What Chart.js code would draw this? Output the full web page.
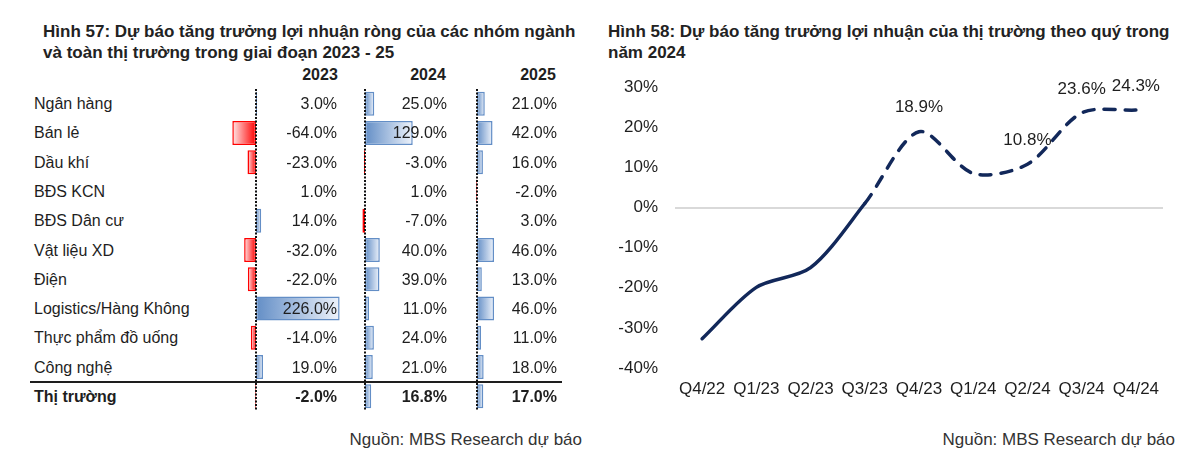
<!DOCTYPE html>
<html lang="vi">
<head>
<meta charset="utf-8">
<script src="https://cdn.jsdelivr.net/npm/chart.js@4.4.1/dist/chart.umd.min.js"></script>
<style>
  html, body { margin: 0; padding: 0; background: #fff; }
  body {
    width: 1200px; height: 458px; position: relative; overflow: hidden;
    font-family: "Liberation Sans", Arial, sans-serif; color: #1e1e1e;
  }
  .t { position: absolute; white-space: nowrap; line-height: 20px; height: 20px; }
  .title { font-weight: bold; font-size: 17px; color: #222; }
  .cell { font-size: 16px; }
  .bold { font-weight: bold; }
  .src { font-size: 17px; color: #333; }
  canvas { position: absolute; }
</style>
</head>
<body>

<div class="t title" style="left:43px; top:22px;">Hình 57: Dự báo tăng trưởng lợi nhuận ròng của các nhóm ngành</div>
<div class="t title" style="left:43px; top:43px;">và toàn thị trường trong giai đoạn 2023 - 25</div>
<div class="t title" style="left:608px; top:22px;">Hình 58: Dự báo tăng trưởng lợi nhuận của thị trường theo quý trong</div>
<div class="t title" style="left:608px; top:43px;">năm 2024</div>

<div id="table"></div>
<div style="position:absolute; left:30px; top:381px; width:532px; height:2px; background:#1e1e1e;"></div>

<canvas id="bar2023"></canvas>
<canvas id="bar2024"></canvas>
<canvas id="bar2025"></canvas>
<canvas id="lineChart" style="left:600px; top:60px;" width="580" height="360"></canvas>

<div class="t src" style="right:618px; top:430px;">Nguồn: MBS Research dự báo</div>
<div class="t src" style="right:25px; top:430px;">Nguồn: MBS Research dự báo</div>

<script>
// Hình 57 - tăng trưởng LNR theo nhóm ngành (%)
const sectors = ['Ngân hàng', 'Bán lẻ', 'Dầu khí', 'BĐS KCN', 'BĐS Dân cư', 'Vật liệu XD',
  'Điện', 'Logistics/Hàng Không', 'Thực phẩm đồ uống', 'Công nghệ', 'Thị trường'];
const years = ['2023', '2024', '2025'];
const growth2023 = [3.0, -64.0, -23.0, 1.0, 14.0, -32.0, -22.0, 226.0, -14.0, 19.0, -2.0];
const growth2024 = [25.0, 129.0, -3.0, 1.0, -7.0, 40.0, 39.0, 11.0, 24.0, 21.0, 16.8];
const growth2025 = [21.0, 42.0, 16.0, -2.0, 3.0, 46.0, 13.0, 46.0, 11.0, 18.0, 17.0];

// Hình 58 - tăng trưởng LN thị trường theo quý (%)
const quarters = ['Q4/22', 'Q1/23', 'Q2/23', 'Q3/23', 'Q4/23', 'Q1/24', 'Q2/24', 'Q3/24', 'Q4/24'];
const marketGrowth = [-32.7, -19.9, -15.0, 1.0, 18.9, 8.5, 10.8, 23.6, 24.3];
const labelledQuarters = ['Q4/23', 'Q2/24', 'Q3/24', 'Q4/24'];
const forecastFrom = 'Q3/23';

const FONT = '"Liberation Sans", Arial, sans-serif';
const BLUE = '#638ec6';
const RED = '#ff0000';
const NAVY = '#12285a';

// layout bảng
const rowTop = 104, rowStep = 29.3;
const cols = [
  { values: growth2023, axis: 256, left: 222, width: 124, textRight: 337, head: 320 },
  { values: growth2024, axis: 365, left: 350, width: 110, textRight: 447, head: 428 },
  { values: growth2025, axis: 477, left: 465, width: 95,  textRight: 557, head: 538 }
];
const pxPerPct = 0.37;

const table = document.getElementById('table');
function addText(txt, cls, style) {
  const d = document.createElement('div');
  d.className = 't ' + cls;
  d.textContent = txt;
  Object.assign(d.style, style);
  table.appendChild(d);
  return d;
}

years.forEach((y, j) => {
  addText(y, 'cell bold', { left: cols[j].head + 'px', top: '65px', transform: 'translateX(-50%)' });
});

sectors.forEach((s, i) => {
  const cy = rowTop + i * rowStep;
  const last = i === sectors.length - 1;
  addText(s, 'cell' + (last ? ' bold' : ''), { left: '34px', top: (cy - 10) + 'px' });
  cols.forEach(c => {
    addText(c.values[i].toFixed(1) + '%', 'cell' + (last ? ' bold' : ''),
      { right: (1200 - c.textRight) + 'px', top: (cy - 10) + 'px', zIndex: 2 });
  });
});

// đường trục 0 chấm chấm
const zeroAxis = {
  id: 'zeroAxis',
  afterDatasetsDraw(chart) {
    const x = chart.scales.x.getPixelForValue(0);
    const a = chart.chartArea;
    const ctx = chart.ctx;
    ctx.save();
    ctx.strokeStyle = '#111';
    ctx.lineWidth = 2;
    ctx.setLineDash([2, 1.5]);
    ctx.beginPath();
    ctx.moveTo(Math.round(x), a.top);
    ctx.lineTo(Math.round(x), a.bottom);
    ctx.stroke();
    ctx.restore();
  }
};

function barFill(ctx) {
  const chart = ctx.chart;
  const v = ctx.raw;
  const base = v < 0 ? RED : BLUE;
  const xs = chart.scales.x;
  if (!xs || !chart.chartArea) return base;
  const x0 = xs.getPixelForValue(0);
  let x1 = xs.getPixelForValue(v);
  if (Math.abs(x1 - x0) < 1) x1 = x0 + (v < 0 ? -1 : 1);
  const g = chart.ctx.createLinearGradient(x0, 0, x1, 0);
  g.addColorStop(0, base);
  g.addColorStop(1, v < 0 ? '#ffe8e8' : '#eef3fb');
  return g;
}

const canvasTop = rowTop - rowStep / 2;
const canvasHeight = rowStep * sectors.length;

cols.forEach((c, j) => {
  const el = document.getElementById('bar' + years[j]);
  el.width = c.width;
  el.height = Math.round(canvasHeight);
  el.style.left = c.left + 'px';
  el.style.top = Math.round(canvasTop) + 'px';
  new Chart(el, {
    type: 'bar',
    data: {
      labels: sectors,
      datasets: [{
        data: c.values,
        backgroundColor: barFill,
        borderColor: ctx => ctx.raw < 0 ? RED : BLUE,
        borderWidth: 1.5,
        borderSkipped: false,
        categoryPercentage: 1,
        barPercentage: 0.82
      }]
    },
    options: {
      indexAxis: 'y',
      responsive: false,
      animation: false,
      layout: { padding: 0 },
      plugins: { legend: { display: false }, tooltip: { enabled: false } },
      scales: {
        x: {
          display: false,
          min: (c.left - c.axis) / pxPerPct,
          max: (c.left + c.width - c.axis) / pxPerPct
        },
        y: { display: false }
      }
    },
    plugins: [zeroAxis]
  });
});

// nhãn giá trị trên đường
const pointLabels = {
  id: 'pointLabels',
  afterDatasetsDraw(chart) {
    const meta = chart.getDatasetMeta(0);
    const ctx = chart.ctx;
    ctx.save();
    ctx.font = '17px ' + FONT;
    ctx.fillStyle = '#1e1e1e';
    ctx.textAlign = 'center';
    ctx.textBaseline = 'middle';
    quarters.forEach((q, i) => {
      if (!labelledQuarters.includes(q)) return;
      const p = meta.data[i];
      ctx.fillText(marketGrowth[i].toFixed(1) + '%', p.x, p.y - 24);
    });
    ctx.restore();
  }
};

const forecastIdx = quarters.indexOf(forecastFrom);

new Chart(document.getElementById('lineChart'), {
  type: 'line',
  data: {
    labels: quarters,
    datasets: [{
      data: marketGrowth,
      borderColor: NAVY,
      borderWidth: 3.5,
      borderCapStyle: 'round',
      pointRadius: 0,
      tension: 0.3,
      fill: false,
      segment: {
        borderDash: ctx => ctx.p0DataIndex >= forecastIdx ? [11, 10] : undefined
      }
    }]
  },
  options: {
    responsive: false,
    animation: false,
    layout: { padding: { top: 23, right: 17, left: 0, bottom: 0 } },
    plugins: { legend: { display: false }, tooltip: { enabled: false } },
    scales: {
      x: {
        offset: true,
        grid: { display: false, drawTicks: false },
        border: { display: false },
        ticks: { color: '#1e1e1e', font: { family: FONT, size: 17 }, padding: 11, maxRotation: 0, autoSkip: false },
        afterFit: s => { s.height = 52; }
      },
      y: {
        min: -40,
        max: 30,
        ticks: { stepSize: 10, color: '#1e1e1e', font: { family: FONT, size: 17 }, padding: 17,
          callback: v => v + '%' },
        grid: { drawTicks: false, lineWidth: 2, color: c => c.tick.value === 0 ? '#d9d9d9' : 'rgba(0,0,0,0)' },
        border: { display: false },
        afterFit: s => { s.width = 75; }
      }
    }
  },
  plugins: [pointLabels]
});
</script>
</body>
</html>
